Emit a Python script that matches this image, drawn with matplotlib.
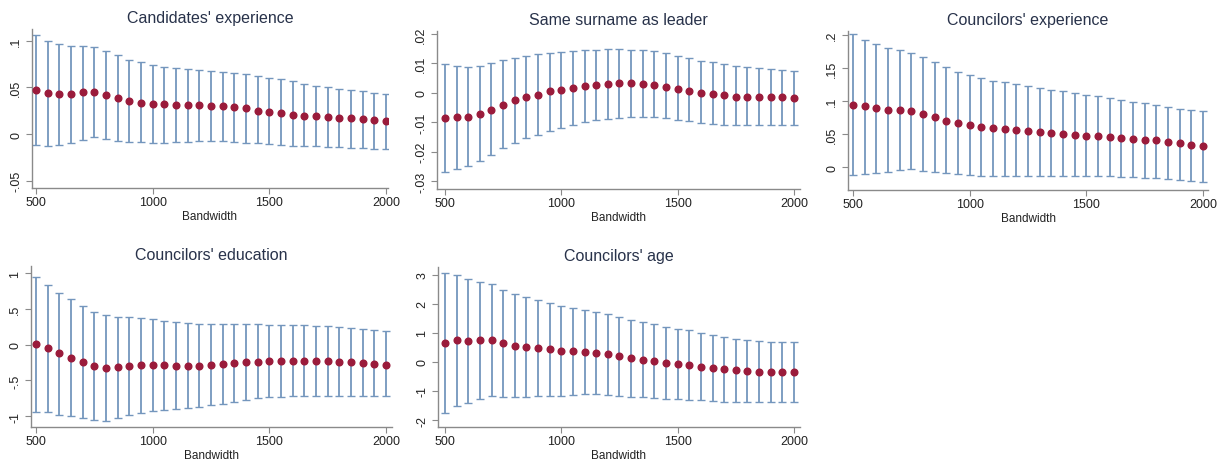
import numpy as np
import matplotlib
matplotlib.use("Agg")
import matplotlib.pyplot as plt

plt.rcParams['font.family'] = ['Liberation Sans', 'DejaVu Sans']

bandwidth = list(range(500, 2001, 50))

# Candidates' experience
cand_est = [0.0475, 0.0436, 0.0429, 0.0429, 0.0446, 0.0454, 0.0418, 0.0386, 0.0357, 0.0336,
            0.0325, 0.0318, 0.0311, 0.0311, 0.0307, 0.0300, 0.0296, 0.0286, 0.0275, 0.0250,
            0.0232, 0.0221, 0.0207, 0.0196, 0.0189, 0.0182, 0.0171, 0.0168, 0.0157, 0.0146, 0.0139]
cand_hi = [0.1064, 0.0996, 0.0961, 0.0946, 0.0943, 0.0932, 0.0886, 0.0843, 0.0793, 0.0768,
           0.0743, 0.0721, 0.0707, 0.0700, 0.0689, 0.0679, 0.0668, 0.0657, 0.0643, 0.0618,
           0.0600, 0.0586, 0.0564, 0.0536, 0.0518, 0.0504, 0.0486, 0.0471, 0.0457, 0.0443, 0.0432]
cand_lo = [-0.0118, -0.0125, -0.0114, -0.0096, -0.0068, -0.0036, -0.0054, -0.0071, -0.0089, -0.0089,
           -0.0096, -0.0096, -0.0089, -0.0082, -0.0079, -0.0079, -0.0079, -0.0082, -0.0093, -0.0100,
           -0.0111, -0.0114, -0.0125, -0.0129, -0.0129, -0.0136, -0.0143, -0.0146, -0.0150, -0.0157, -0.0164]

# Same surname as leader
surn_est = [-0.0085, -0.0083, -0.0082, -0.0072, -0.0058, -0.0040, -0.0025, -0.0016, -0.0007, 0.0005,
            0.0011, 0.0016, 0.0023, 0.0026, 0.0030, 0.0032, 0.0032, 0.0030, 0.0025, 0.0019,
            0.0014, 0.0007, 0.0000, -0.0005, -0.0009, -0.0013, -0.0013, -0.0014, -0.0015, -0.0016, -0.0018]
surn_hi = [0.0097, 0.0092, 0.0086, 0.0091, 0.0100, 0.0110, 0.0119, 0.0126, 0.0132, 0.0136,
           0.0139, 0.0142, 0.0145, 0.0147, 0.0148, 0.0148, 0.0147, 0.0145, 0.0141, 0.0135,
           0.0126, 0.0118, 0.0109, 0.0103, 0.0098, 0.0091, 0.0086, 0.0083, 0.0082, 0.0078, 0.0075]
surn_lo = [-0.0268, -0.0259, -0.0248, -0.0233, -0.0213, -0.0189, -0.0170, -0.0155, -0.0142, -0.0130,
           -0.0118, -0.0109, -0.0100, -0.0093, -0.0088, -0.0084, -0.0082, -0.0082, -0.0083, -0.0086,
           -0.0091, -0.0097, -0.0101, -0.0105, -0.0108, -0.0110, -0.0111, -0.0111, -0.0111, -0.0110, -0.0111]

# Councilors' experience
cexp_est = [0.0945, 0.0920, 0.0889, 0.0869, 0.0864, 0.0849, 0.0804, 0.0754, 0.0704, 0.0668,
            0.0633, 0.0608, 0.0588, 0.0583, 0.0568, 0.0543, 0.0533, 0.0518, 0.0503, 0.0487,
            0.0477, 0.0467, 0.0457, 0.0442, 0.0427, 0.0417, 0.0407, 0.0387, 0.0362, 0.0337, 0.0317]
cexp_hi = [0.2005, 0.1925, 0.1859, 0.1804, 0.1764, 0.1729, 0.1658, 0.1588, 0.1508, 0.1442,
           0.1387, 0.1342, 0.1307, 0.1286, 0.1251, 0.1221, 0.1196, 0.1171, 0.1146, 0.1121,
           0.1095, 0.1070, 0.1045, 0.1020, 0.0990, 0.0965, 0.0940, 0.0910, 0.0884, 0.0859, 0.0844]
cexp_lo = [-0.0110, -0.0095, -0.0085, -0.0070, -0.0045, -0.0025, -0.0050, -0.0065, -0.0090, -0.0106,
           -0.0121, -0.0126, -0.0126, -0.0126, -0.0126, -0.0126, -0.0126, -0.0131, -0.0131, -0.0131,
           -0.0131, -0.0136, -0.0136, -0.0141, -0.0151, -0.0156, -0.0161, -0.0171, -0.0191, -0.0206, -0.0216]

# Councilors' education
cedu_est = [0.005, -0.051, -0.121, -0.186, -0.242, -0.298, -0.326, -0.316, -0.302, -0.288,
            -0.288, -0.288, -0.293, -0.293, -0.293, -0.279, -0.265, -0.256, -0.247, -0.237,
            -0.233, -0.228, -0.228, -0.228, -0.233, -0.233, -0.237, -0.242, -0.256, -0.265, -0.279]
cedu_hi = [0.944, 0.837, 0.726, 0.642, 0.544, 0.456, 0.409, 0.391, 0.381, 0.372,
           0.353, 0.335, 0.321, 0.307, 0.293, 0.288, 0.288, 0.288, 0.288, 0.284,
           0.279, 0.279, 0.274, 0.274, 0.265, 0.260, 0.251, 0.237, 0.223, 0.205, 0.186]
cedu_lo = [-0.935, -0.944, -0.981, -1.000, -1.023, -1.047, -1.060, -1.019, -0.981, -0.949,
           -0.926, -0.907, -0.893, -0.879, -0.865, -0.847, -0.823, -0.795, -0.767, -0.749,
           -0.735, -0.726, -0.721, -0.716, -0.716, -0.716, -0.712, -0.712, -0.716, -0.721, -0.721]

# Councilors' age
cage_est = [0.644, 0.736, 0.713, 0.747, 0.747, 0.644, 0.552, 0.517, 0.483, 0.425,
            0.379, 0.356, 0.333, 0.299, 0.253, 0.184, 0.126, 0.080, 0.023, -0.034,
            -0.080, -0.115, -0.161, -0.218, -0.241, -0.276, -0.310, -0.333, -0.356, -0.356, -0.356]
cage_hi = [3.046, 2.989, 2.862, 2.747, 2.667, 2.483, 2.322, 2.230, 2.126, 2.011,
           1.920, 1.839, 1.770, 1.701, 1.632, 1.552, 1.448, 1.368, 1.287, 1.207,
           1.138, 1.080, 1.000, 0.931, 0.851, 0.793, 0.747, 0.701, 0.678, 0.667, 0.667]
cage_lo = [-1.759, -1.529, -1.402, -1.264, -1.184, -1.207, -1.218, -1.195, -1.172, -1.161,
           -1.161, -1.149, -1.115, -1.103, -1.126, -1.172, -1.195, -1.218, -1.241, -1.264,
           -1.287, -1.310, -1.322, -1.345, -1.368, -1.379, -1.391, -1.391, -1.391, -1.391, -1.379]

titles = ["Candidates' experience", "Same surname as leader", "Councilors' experience",
          "Councilors' education", "Councilors' age"]
estimates = [cand_est, surn_est, cexp_est, cedu_est, cage_est]
upper = [cand_hi, surn_hi, cexp_hi, cedu_hi, cage_hi]
lower = [cand_lo, surn_lo, cexp_lo, cedu_lo, cage_lo]
yticks = [[-0.05, 0, 0.05, 0.1],
          [-0.03, -0.02, -0.01, 0, 0.01, 0.02],
          [0, 0.05, 0.1, 0.15, 0.2],
          [-1, -0.5, 0, 0.5, 1],
          [-2, -1, 0, 1, 2, 3]]
yticklabels = [["-.05", "0", ".05", ".1"],
               ["-.03", "-.02", "-.01", "0", ".01", ".02"],
               ["0", ".05", ".1", ".15", ".2"],
               ["-1", "-.5", "0", ".5", "1"],
               ["-2", "-1", "0", "1", "2", "3"]]
ylims = [(-0.0578, 0.1125), (-0.0327, 0.021), (-0.034, 0.2056), (-1.149, 1.098), (-2.24, 3.26)]

# axes boxes in pixels: left, right, top, bottom
W, H = 1225, 464
boxes = [(32, 388, 30, 189), (437, 800, 32, 190), (848, 1208, 32, 191),
         (31, 392, 267, 428), (438, 800, 268, 428)]
xlims = [(483, 2009), (466, 2026), (479, 2021), (479, 2026), (470, 2026)]

bar_col = '#7496bd'
cap_col = '#4e6480'
dot_col = '#9a1b3b'
axis_col = '#8a8a8a'

fig = plt.figure(figsize=(W / 100, H / 100), dpi=100)
fig.patch.set_facecolor('white')

for i in range(5):
    l, r, t, b = boxes[i]
    ax = fig.add_axes([l / W, 1 - b / H, (r - l) / W, (b - t) / H])
    est = np.array(estimates[i])
    hi = np.array(upper[i])
    lo = np.array(lower[i])
    eb = ax.errorbar(bandwidth, est, yerr=[est - lo, hi - est], fmt='none',
                     ecolor=bar_col, elinewidth=1.3, capsize=3, capthick=1.0, zorder=2)
    for cl in eb[1]:
        cl.set_color(cap_col)
    ax.plot(bandwidth, est, 'o', color=dot_col, markersize=4.8, zorder=3)
    ax.set_xlim(xlims[i])
    ax.set_ylim(ylims[i])
    ax.set_xticks([500, 1000, 1500, 2000])
    ax.set_xticklabels(["500", "1000", "1500", "2000"])
    ax.set_yticks(yticks[i])
    ax.set_yticklabels(yticklabels[i], rotation=90, va='center')
    for s in ['top', 'right']:
        ax.spines[s].set_visible(False)
    for s in ['left', 'bottom']:
        ax.spines[s].set_color(axis_col)
        ax.spines[s].set_linewidth(1.0)
    ax.tick_params(axis='both', colors=axis_col, labelcolor='#222222',
                   labelsize=9, length=4, width=0.8, pad=2)
    ax.tick_params(axis='y', pad=3)
    ax.set_title(titles[i], fontsize=11.5, color='#28324a', pad=5)
    ax.set_xlabel("Bandwidth", fontsize=8.5, color='#222222', labelpad=1)
    ax.set_facecolor('white')

fig.savefig("out.png", dpi=100, facecolor='white')
